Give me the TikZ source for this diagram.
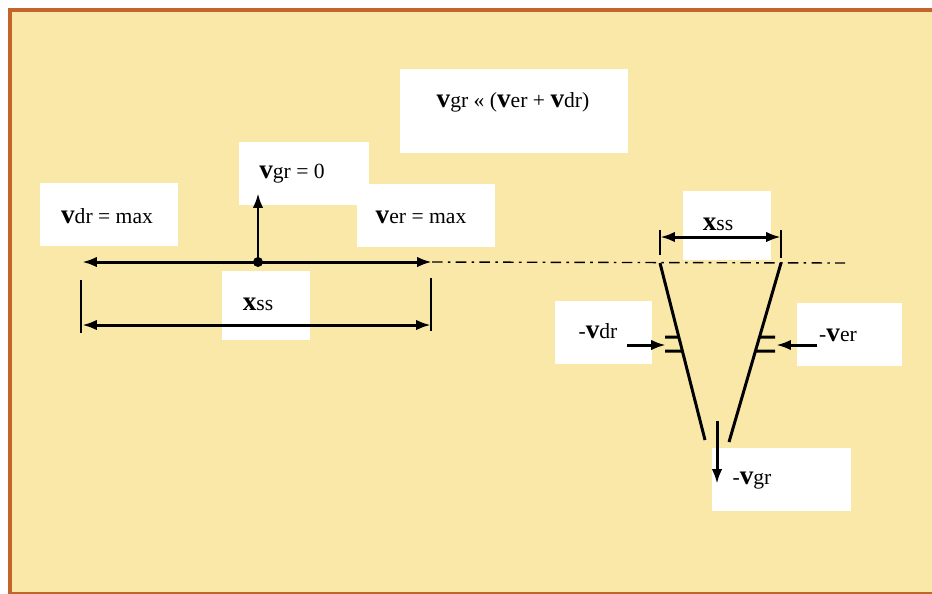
\documentclass[tikz,border=0pt]{standalone}
\usepackage{fontspec}
\setmainfont{Liberation Serif}
\usetikzlibrary{arrows.meta}
\usetikzlibrary{calc}
\usetikzlibrary{positioning}
\definecolor{paper}{HTML}{FAE8A9}
\definecolor{rim}{HTML}{C2652C}
\newcommand{\vvec}{{\fontsize{15.5}{15}\selectfont\textbf{v}}}
\newcommand{\xvec}{{\fontsize{15.5}{15}\selectfont\textbf{x}}}

\begin{document}
\begin{tikzpicture}[x=0.02cm, y=-0.02cm, >={Latex[length=8.5pt, width=6pt]}]
  \tikzset{lbl/.style={inner sep=0pt, font=\fontsize{12.3}{14}\selectfont},
           heavy/.style={line width=1.7pt},
           tick/.style={line width=1.1pt}}
  \path[use as bounding box] (0, 0) rectangle (932, 593);
  \draw[rim, line width=2.5pt, fill=paper] (10, 10) rectangle (950, 594);

%%%%%%%%%%%% white boxes
  \foreach \a/\b/\c/\d in {400/69/628/153, 239/142/369/205, 40/183/178/246,
      357/184/495/247, 222/271/310/340, 683/191/771/260, 555/301/652/364,
      797/303/902/366, 712/448/851/511} {
    \fill[white] (\a, \b) rectangle (\c, \d);
  }

%%%%%%%%%%%% labels
  \node[lbl] (rel) at (513, 102) {\vvec gr « (\vvec er + \vvec dr)};
  \node[lbl] (vgrzero) at (292, 174) {\vvec gr = 0};
  \node[lbl] (vdrmax) at (107, 216) {\vvec dr = max};
  \node[lbl] (vermax) at (421, 217) {\vvec er = max};
  \node[lbl] (xssleft) at (258, 304) {\xvec ss};
  \node[lbl] (xssright) at (718, 224) {\xvec ss};
  \node[lbl] (mvdr) at (598, 331) {-\vvec dr};
  \node[lbl] (mver) at (838, 335) {-\vvec er};
  \node[lbl] (mvgr) at (752, 481) {-\vvec gr};

%%%%%%%%%%%% left: balanced state
  \coordinate (hub) at (258, 262);
  \coordinate (west) at (82, 262);
  \coordinate (east) at (432, 262);
  \coordinate (up) at (258, 193);
  \coordinate (axisend) at (845, 263);
  \draw[line width=0.8pt, dash pattern=on 6pt off 3pt on 1.5pt off 3pt] (east) -- (axisend);
  \draw[heavy, <->] (west) -- (east);
  \draw[heavy, ->] (hub) -- (up);
  \fill (hub) circle (5);

  \coordinate (la) at (81, 280);
  \coordinate (lb) at (81, 333);
  \coordinate (ra) at (431, 278);
  \coordinate (rb) at (431, 331);
  \draw[tick] (la) -- (lb);
  \draw[tick] (ra) -- (rb);
  \draw[heavy, <->] (82, 325) -- (431, 325);

%%%%%%%%%%%% right: funnel
  \coordinate (ltop) at (660, 263);
  \coordinate (lbot) at (705, 440);
  \coordinate (rtop) at (781, 263);
  \coordinate (rbot) at (729, 442);
  \draw[heavy] (ltop) -- (lbot);
  \draw[heavy] (rtop) -- (rbot);
  \draw[tick] (660, 230) -- (660, 255);
  \draw[tick] (781, 230) -- (781, 258);
  \draw[heavy, <->] (660, 237) -- (781, 237);

  \foreach \y in {337, 351} {
    \draw[heavy] (665, \y) -- ($(ltop)!{(\y-263)/177}!(lbot)$);
    \draw[heavy] ($(rtop)!{(\y-263)/179}!(rbot)$) -- (775, \y);
  }

  \coordinate (dra) at (627, 345);
  \coordinate (drb) at (666, 345);
  \coordinate (era) at (817, 345);
  \coordinate (erb) at (776, 345);
  \coordinate (gra) at (717, 421);
  \coordinate (grb) at (717, 484);
  \draw[heavy, ->] (dra) -- (drb);
  \draw[heavy, ->] (era) -- (erb);
  \draw[heavy, ->] (gra) -- (grb);
\end{tikzpicture}
\end{document}
